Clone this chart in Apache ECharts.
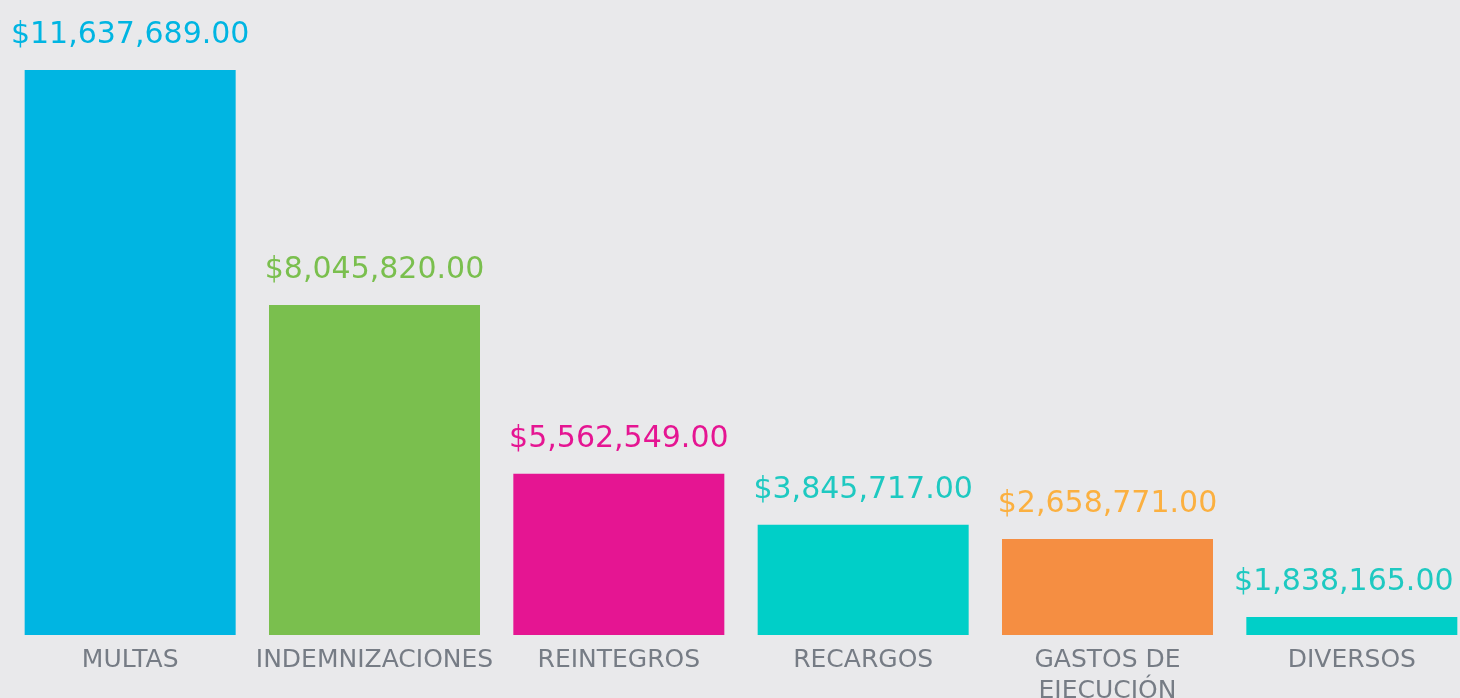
<!DOCTYPE html>
<html>
<head>
<meta charset="utf-8">
<script src="https://cdn.jsdelivr.net/npm/echarts@6/dist/echarts.min.js"></script>
<style>
html,body{margin:0;padding:0;background:#e9e9eb;}
#chart{width:1460px;height:698px;}
</style>
</head>
<body>
<div id="chart"></div>
<script>
// Categories (axis labels)
const categories = ['MULTAS', 'INDEMNIZACIONES', 'REINTEGROS', 'RECARGOS', 'GASTOS DE\nEJECUCIÓN', 'DIVERSOS'];
// Amounts printed above the bars
const amounts = [11637689.00, 8045820.00, 5562549.00, 3845717.00, 2658771.00, 1838165.00];
// Bar lengths as drawn in the infographic (millions, read off the picture; not proportional to amounts)
const drawnHeights = [11.64, 6.80, 3.32, 2.27, 1.98, 0.37];
// Colours
const barColors = ['#00b5e2', '#7abf4e', '#e51592', '#00cfc8', '#f58e42', '#00cfc8'];
const labelColors = ['#00b5e2', '#7abf4e', '#e51592', '#1ec9c1', '#fbb040', '#1ec9c1'];

function fmt(v) {
  return '$' + v.toLocaleString('en-US', {minimumFractionDigits: 2, maximumFractionDigits: 2});
}

const chart = echarts.init(document.getElementById('chart'));
chart.setOption({
  backgroundColor: '#e9e9eb',
  animation: false,
  grid: {left: 8, width: 1466, top: 70, bottom: 63, containLabel: false, outerBoundsMode: 'none'},
  xAxis: {
    type: 'category',
    data: categories,
    axisLine: {show: false},
    axisTick: {show: false},
    axisLabel: {
      interval: 0,
      color: '#767c85',
      fontFamily: 'DejaVu Sans',
      fontSize: 25,
      lineHeight: 31,
      margin: 10
    }
  },
  yAxis: {
    type: 'value',
    min: 0,
    max: drawnHeights[0],
    show: false
  },
  series: [{
    type: 'bar',
    barWidth: 211,
    data: drawnHeights.map((h, i) => ({
      value: h,
      itemStyle: {color: barColors[i]},
      label: {color: labelColors[i], offset: i === drawnHeights.length - 1 ? [-8, 0] : [0, 0]}
    })),
    label: {
      show: true,
      position: 'top',
      distance: 20,
      fontFamily: 'DejaVu Sans',
      fontSize: 30,
      formatter: p => fmt(amounts[p.dataIndex])
    }
  }]
});
</script>
</body>
</html>
